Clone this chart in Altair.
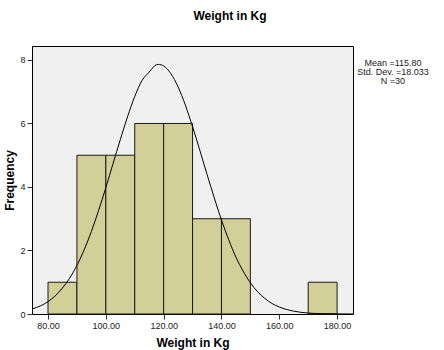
import altair as alt
import pandas as pd

# Histogram bins (Weight in Kg)
bin_start = [80, 90, 100, 110, 120, 130, 140, 170]
bin_end = [90, 100, 110, 120, 130, 140, 150, 180]
counts = [1, 5, 5, 6, 6, 3, 3, 1]

# Normal curve
curve_x = [74.5, 77.5, 80, 82.5, 85, 87.5, 90, 92.5, 95, 97.5, 100, 102.5, 105, 107.5,
           110, 112.5, 115, 117.5, 118.2, 120, 122.5, 125, 127.5, 130, 132.5, 135,
           137.5, 140, 142.5, 145, 147.5, 150, 152.5, 155, 157.5, 160, 165, 170, 175,
           180, 185.5]
curve_y = [0.16, 0.26, 0.39, 0.57, 0.82, 1.13, 1.53, 2.02, 2.60, 3.26, 3.98, 4.74, 5.49,
           6.21, 6.85, 7.35, 7.62, 7.85, 7.86, 7.81, 7.57, 7.15, 6.58, 5.90, 5.16, 4.40,
           3.66, 2.96, 2.34, 1.79, 1.35, 0.98, 0.70, 0.49, 0.33, 0.22, 0.09, 0.03, 0.01,
           0.003, 0.0]

x_ticks = [80, 100, 120, 140, 160, 180]
y_ticks = [0, 2, 4, 6, 8]
stats_lines = ["Mean =115.80", "Std. Dev. =18.033", "N =30"]
title_text = "Weight in Kg"

FONT = "Liberation Sans"
x_dom = [74.46, 185.5]
y_dom = [0, 8.44]

bars_df = pd.DataFrame({"start": bin_start, "end": bin_end, "count": counts})
curve_df = pd.DataFrame({"w": curve_x, "f": curve_y})
stats_df = pd.DataFrame({"t": ["\n".join(stats_lines)]})
title_df = pd.DataFrame({"t": [title_text]})

xscale = alt.Scale(domain=x_dom, nice=False, zero=False)
yscale = alt.Scale(domain=y_dom, nice=False)

bars = alt.Chart(bars_df).mark_rect(
    fill="#D3CF98", stroke="#1a1a1a", strokeWidth=1
).encode(
    x=alt.X("start:Q", scale=xscale, title="Weight in Kg",
            axis=alt.Axis(values=x_ticks, format=".2f", grid=False, domain=False,
                          tickSize=5, tickColor="#333", labelPadding=2,
                          labelFont=FONT, labelFontSize=9, labelColor="#222",
                          titleFont=FONT, titleFontSize=12, titleFontWeight="bold",
                          titleColor="#000", titlePadding=7)),
    x2="end:Q",
    y=alt.Y("count:Q", scale=yscale, title="Frequency",
            axis=alt.Axis(values=y_ticks, format="d", grid=False, domain=False,
                          tickSize=5, tickColor="#333", labelPadding=2,
                          labelFont=FONT, labelFontSize=9, labelColor="#222",
                          titleFont=FONT, titleFontSize=12, titleFontWeight="bold",
                          titleColor="#000", titlePadding=3)),
    y2=alt.datum(0),
)

curve = alt.Chart(curve_df).mark_line(
    color="#000", strokeWidth=1, interpolate="monotone", clip=True
).encode(
    x=alt.X("w:Q", scale=xscale, title="Weight in Kg"),
    y=alt.Y("f:Q", scale=yscale, title="Frequency"),
)

stats = alt.Chart(stats_df).mark_text(
    font=FONT, fontSize=9, color="#222", align="center", baseline="middle",
    lineBreak="\n", lineHeight=9
).encode(
    x=alt.value(361),
    y=alt.value(17),
    text="t:N",
)

title = alt.Chart(title_df).mark_text(
    font=FONT, fontSize=12, fontWeight="bold", color="#000", align="center",
    baseline="middle"
).encode(
    x=alt.value(198),
    y=alt.value(-30),
    text="t:N",
)

chart = alt.layer(bars, curve, stats, title).properties(
    width=321,
    height=268,
    autosize=alt.AutoSizeParams(type="none"),
    padding={"left": 32, "top": 46, "right": 91, "bottom": 36},
).configure_view(
    fill="#F0F0F0", stroke="#000", strokeWidth=1
)

chart.save("out.html", embed_options={"renderer": "svg", "actions": False})
